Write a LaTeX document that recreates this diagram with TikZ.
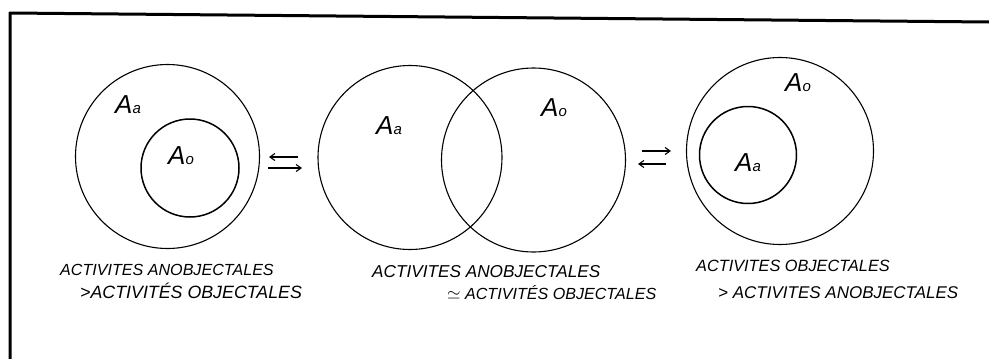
\documentclass[tikz,border=0pt]{standalone}
\usepackage{fontspec}
\setmainfont{Liberation Sans}
\usetikzlibrary{arrows.meta}
\tikzset{
  outerc/.style={circle,draw,line width=1.1pt,inner sep=0pt},
  innerc/.style={circle,draw,line width=1.5pt,inner sep=0pt},
  lbl/.style={inner sep=0pt,font=\itshape},
  captxt/.style={inner sep=0pt,anchor=west,font=\itshape\fontsize{#1}{16}\selectfont},
  captxt/.default=16,
  arr/.style={line width=1.1pt,-{Straight Barb[length=5pt,width=7pt]}},
  framel/.style={line width=3pt,line cap=round,line join=round}
}
\newcommand{\Alab}[1]{{\fontsize{26}{26}\selectfont A}{\fontsize{15}{15}\selectfont #1}}
\begin{document}
\begin{tikzpicture}[x=1pt,y=-1pt]
\useasboundingbox (0,0) rectangle (989,359);
% frame
\coordinate (fr) at (989,22);
\coordinate (fc) at (10,13);
\coordinate (fb) at (10,359);
\draw[framel] (fr) -- (fc) -- (fb);
% left diagram
\node[outerc,minimum size=184pt] (L1) at (167.5,156.5) {};
\node[innerc,minimum size=98pt] (L2) at (190,168) {};
\node[lbl] (La) at (128,105) {\Alab{a}};
\node[lbl] (Lo) at (181,156) {\Alab{o}};
% middle diagram
\node[outerc,minimum size=184pt] (M1) at (410,157.5) {};
\node[outerc,minimum size=184pt] (M2) at (533.5,160) {};
\node[lbl] (Ma) at (389,126) {\Alab{a}};
\node[lbl] (Mo) at (554,108) {\Alab{o}};
% right diagram
\node[outerc,minimum size=187pt] (R1) at (780,151) {};
\node[innerc,minimum size=97pt] (R2) at (748,155) {};
\node[lbl] (Ro) at (798,83) {\Alab{o}};
\node[lbl] (Ra) at (748,163) {\Alab{a}};
% arrows
\coordinate (a1s) at (298,157); \coordinate (a1e) at (269,157);
\coordinate (a2s) at (268,168); \coordinate (a2e) at (302,168);
\coordinate (b1s) at (642,151); \coordinate (b1e) at (671,151);
\coordinate (b2s) at (666,164); \coordinate (b2e) at (638,164);
\draw[arr] (a1s) -- (a1e);
\draw[arr] (a2s) -- (a2e);
\draw[arr] (b1s) -- (b1e);
\draw[arr] (b2s) -- (b2e);
% captions
\node[captxt=16.1] (t1) at (60,270) {ACTIVITES ANOBJECTALES};
\node[captxt=17.8] (t2) at (80,291) {>ACTIVITÉS OBJECTALES};
\node[captxt=17.2] (t3) at (372,272) {ACTIVITES ANOBJECTALES};
\node[captxt=16.1] (t4) at (447,293) {$\simeq$ ACTIVITÉS OBJECTALES};
\node[captxt=16.3] (t5) at (696,266) {ACTIVITES OBJECTALES};
\node[captxt=17] (t6) at (718,293) {> ACTIVITES ANOBJECTALES};
\end{tikzpicture}
\end{document}
